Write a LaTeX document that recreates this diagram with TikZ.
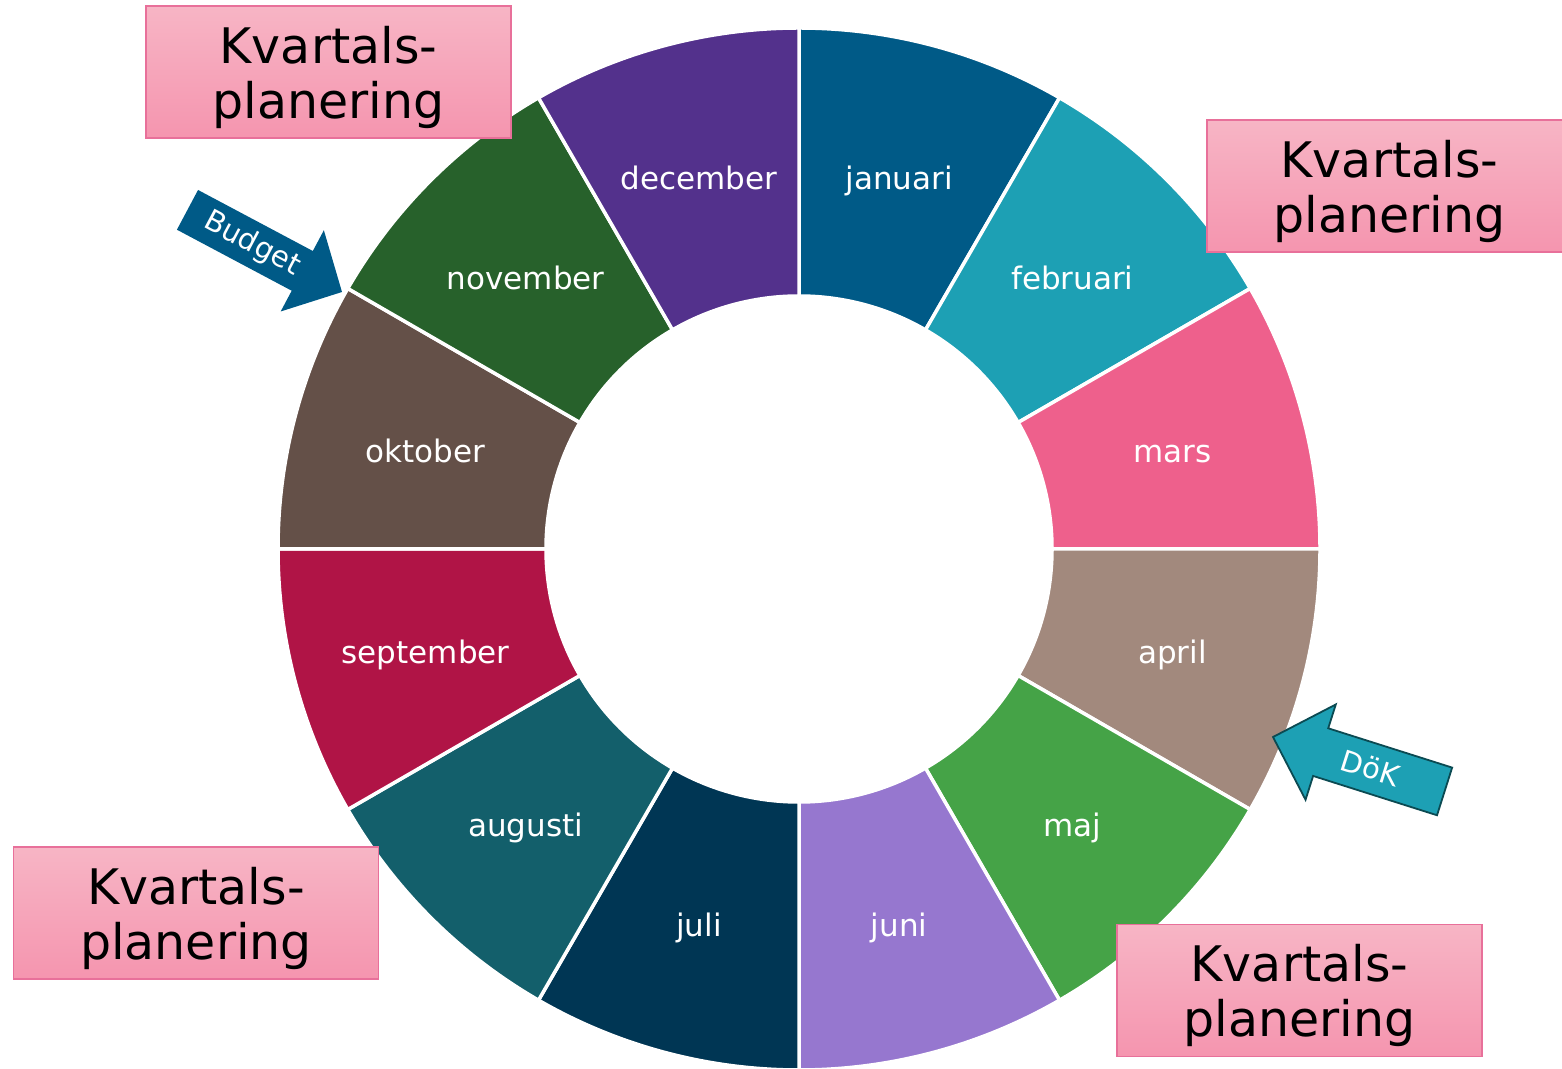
\documentclass[tikz,border=0pt]{standalone}
\usepackage{fontspec}
\setmainfont{DejaVu Sans}
\definecolor{cJan}{HTML}{005A87}
\definecolor{cFeb}{HTML}{1DA0B4}
\definecolor{cMar}{HTML}{EE608C}
\definecolor{cApr}{HTML}{A2897D}
\definecolor{cMaj}{HTML}{45A347}
\definecolor{cJun}{HTML}{9677CF}
\definecolor{cJul}{HTML}{003654}
\definecolor{cAug}{HTML}{135F6B}
\definecolor{cSep}{HTML}{B01446}
\definecolor{cOkt}{HTML}{645048}
\definecolor{cNov}{HTML}{27612B}
\definecolor{cDec}{HTML}{53318C}
\definecolor{kvtop}{HTML}{F7B5C5}
\definecolor{kvbot}{HTML}{F595AF}
\definecolor{kvborder}{HTML}{E8709A}
\definecolor{dokborder}{HTML}{0B4A52}
\begin{document}
\begin{tikzpicture}[x=1pt,y=1pt,
  seg/.style={draw=white, line width=3.5pt, line join=miter},
  month/.style={text=white, font=\fontsize{31}{36}\selectfont, inner sep=0pt,
    anchor=base, yshift=-14pt},
  kvbox/.style={draw=kvborder, line width=1.2pt, top color=kvtop, bottom color=kvbot,
    minimum width=365pt, minimum height=132pt, align=center, inner sep=0pt,
    font=\fontsize{49}{55}\selectfont},
  arrowlbl/.style={text=white, font=\fontsize{29}{32}\selectfont, inner sep=0pt}]
\useasboundingbox (0,0) rectangle (1562,1068);
\coordinate (C) at (799,519);

% the twelve month sectors of the ring, clockwise from the top
\foreach \i/\name/\col in {0/januari/cJan, 1/februari/cFeb, 2/mars/cMar,
    3/april/cApr, 4/maj/cMaj, 5/juni/cJun, 6/juli/cJul, 7/augusti/cAug,
    8/september/cSep, 9/oktober/cOkt, 10/november/cNov, 11/december/cDec} {
  \pgfmathsetmacro\a{90-30*\i}
  \pgfmathsetmacro\b{60-30*\i}
  \pgfmathsetmacro\m{75-30*\i}
  \draw[seg, fill=\col] ([shift={(\a:521pt)}]C)
      arc[start angle=\a, end angle=\b, radius=521pt]
      -- ([shift={(\b:253pt)}]C)
      arc[start angle=\b, end angle=\a, radius=253pt] -- cycle;
  \node[month] (m\i) at ([shift={(\m:386.5pt)}]C) {\name};
}

% quarterly planning boxes
\node[kvbox] (kv1) at (328.5,996) {\rule{0pt}{47.5pt}Kvartals-\\planering};
\node[kvbox] (kv2) at (1389.5,882) {\rule{0pt}{47.5pt}Kvartals-\\planering};
\node[kvbox] (kv3) at (196,155) {\rule{0pt}{47.5pt}Kvartals-\\planering};
\node[kvbox] (kv4) at (1299.5,77.5) {\rule{0pt}{47.5pt}Kvartals-\\planering};

% budget arrow pointing at the start of november
\coordinate (budgettip) at (342,776);
\fill[cJan]
  [shift={(budgettip)}, rotate=-28]
  (0,0) -- (-45,46) -- (-45,22.5) -- (-175,22.5) -- (-175,-22.5)
  -- (-45,-22.5) -- (-45,-46) -- cycle;
\node[arrowlbl, rotate=-28] (budget) at ([shift={(-28:-102pt)}]budgettip) {Budget};

% DöK arrow pointing at april
\coordinate (doktip) at (1273,331);
\draw[fill=cFeb, draw=dokborder, line width=1.8pt, line join=miter]
  [shift={(doktip)}, rotate=162.4]
  (0,0) -- (-50,50) -- (-50,25) -- (-180,25) -- (-180,-25)
  -- (-50,-25) -- (-50,-50) -- cycle;
\node[arrowlbl, rotate=-17.6] (dok) at ([shift={(162.4:-102pt)}]doktip) {DöK};
\end{tikzpicture}
\end{document}
